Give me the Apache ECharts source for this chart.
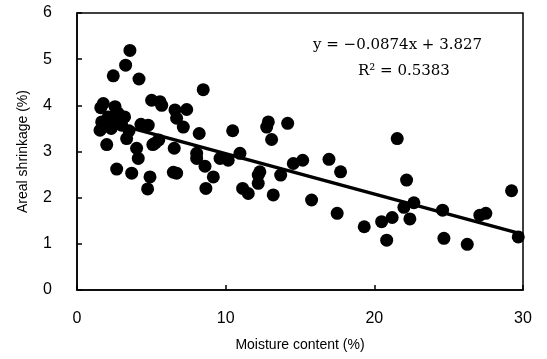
<!DOCTYPE html>
<html>
<head>
<meta charset="utf-8">
<script src="https://cdn.jsdelivr.net/npm/echarts@6/dist/echarts.min.js"></script>
<style>
  html, body { margin: 0; padding: 0; background: #fff; }
  #chart { width: 547px; height: 359px; }
</style>
</head>
<body>
<div id="chart"></div>
<script>
// moisture content (%) of each sample
const moisture = [
  1.55, 1.66, 1.77, 2.0, 2.1, 2.44, 2.44, 2.56, 2.67, 2.76, 3.0, 2.3, 2.9, 3.2, 3.5,
  3.34, 3.27, 3.56, 3.68, 4.01, 4.12, 4.17, 4.3, 4.79, 4.91, 4.75, 1.6,
  5.02, 5.58, 5.7, 5.25, 5.1, 5.5, 6.48, 6.7, 6.54, 6.59, 6.7,
  7.15, 7.38, 8.22, 8.49, 8.05, 8.05, 8.61, 9.17, 8.67, 9.62, 10.17,
  10.47, 10.96, 11.14, 11.52, 12.19, 12.19, 12.3, 12.76, 12.87, 13.09, 13.7, 13.2, 14.17,
  14.55, 15.18, 15.78, 16.95, 17.73, 17.5, 19.32, 20.49, 20.83, 21.2,
  21.54, 22.17, 22.66, 21.99, 22.39, 24.59, 24.68, 26.25, 27.1, 27.5, 29.23, 29.68
];
// areal shrinkage (%) of each sample
const shrinkage = [
  3.46, 3.64, 4.04, 3.15, 3.75, 3.64, 4.64, 3.97, 2.62, 3.83, 3.57, 3.5, 3.65, 3.75, 3.45,
  3.28, 4.87, 5.19, 2.53, 3.07, 2.85, 4.57, 3.59, 3.57, 2.45, 2.19, 3.95,
  4.11, 4.08, 4.0, 3.18, 3.15, 3.25, 2.55, 2.53, 3.07, 3.9, 3.72,
  3.53, 3.91, 3.39, 4.34, 2.96, 2.85, 2.68, 2.45, 2.2, 2.85, 2.81,
  3.45, 2.96, 2.2, 2.09, 2.49, 2.31, 2.56, 3.53, 3.64, 3.26, 2.49, 2.06, 3.61,
  2.74, 2.81, 1.95, 2.83, 2.56, 1.66, 1.37, 1.48, 1.08, 1.57,
  3.28, 2.38, 1.89, 1.79, 1.54, 1.73, 1.12, 0.99, 1.62, 1.66, 2.15, 1.15
];
// fitted line y = slope * x + intercept
const slope = -0.0874;
const intercept = 3.827;
const lineXs = [1.5, 30];
const xTicks = [0, 10, 20, 30];
const yTicks = [0, 1, 2, 3, 4, 5, 6];

(function () {
  const myChart = echarts.init(document.getElementById('chart'));

  const points = moisture.map((x, i) => [x, shrinkage[i]]);
  const fit = lineXs.map(x => [x, slope * x + intercept]);

  const labelFont = {
    color: '#000',
    fontFamily: 'Liberation Sans, Arial, sans-serif',
    fontSize: 16
  };

  let option = {
    backgroundColor: '#fff',
    animation: false,
    grid: {
      left: 77,
      right: 24,
      top: 13,
      bottom: 69,
      show: true,
      borderColor: '#000',
      borderWidth: 1.5
    },
    xAxis: {
      type: 'value',
      min: xTicks[0],
      max: xTicks[xTicks.length - 1],
      interval: 10,
      name: 'Moisture content (%)',
      nameLocation: 'middle',
      nameGap: 48,
      nameTextStyle: { color: '#000', fontFamily: 'Liberation Sans, Arial, sans-serif', fontSize: 14 },
      axisLine: { show: true, lineStyle: { color: '#000', width: 1.5 } },
      axisTick: { show: true, inside: true, length: 5, lineStyle: { color: '#000', width: 1.5 } },
      axisLabel: Object.assign({ margin: 21 }, labelFont),
      splitLine: { show: false }
    },
    yAxis: {
      type: 'value',
      min: yTicks[0],
      max: yTicks[yTicks.length - 1],
      interval: 1,
      name: 'Areal shrinkage (%)',
      nameLocation: 'middle',
      nameGap: 47,
      nameTextStyle: { color: '#000', fontFamily: 'Liberation Sans, Arial, sans-serif', fontSize: 14 },
      axisLine: { show: true, lineStyle: { color: '#000', width: 1.5 } },
      axisTick: { show: true, inside: true, length: 5, lineStyle: { color: '#000', width: 1.5 } },
      axisLabel: Object.assign({ margin: 25 }, labelFont),
      splitLine: { show: false }
    },
    graphic: [
      {
        type: 'text',
        left: 313,
        top: 38,
        style: {
          text: 'y = \u22120.0874x + 3.827',
          fill: '#000',
          font: '15px "DejaVu Serif", "Liberation Serif", serif'
        }
      },
      {
        type: 'text',
        left: 358,
        top: 64,
        style: {
          text: 'R\u00b2 = 0.5383',
          fill: '#000',
          font: '15px "DejaVu Serif", "Liberation Serif", serif'
        }
      }
    ],
    series: [
      {
        name: 'samples',
        type: 'scatter',
        symbol: 'circle',
        symbolSize: 13,
        itemStyle: { color: '#000', opacity: 1 },
        data: points,
        z: 2
      },
      {
        name: 'fit',
        type: 'line',
        showSymbol: false,
        lineStyle: { color: '#000', width: 3.5 },
        data: fit,
        z: 3
      }
    ]
  };
  myChart.setOption(option);
  window.addEventListener('resize', function () {
    myChart.resize();
  });
})();
</script>
</body>
</html>
